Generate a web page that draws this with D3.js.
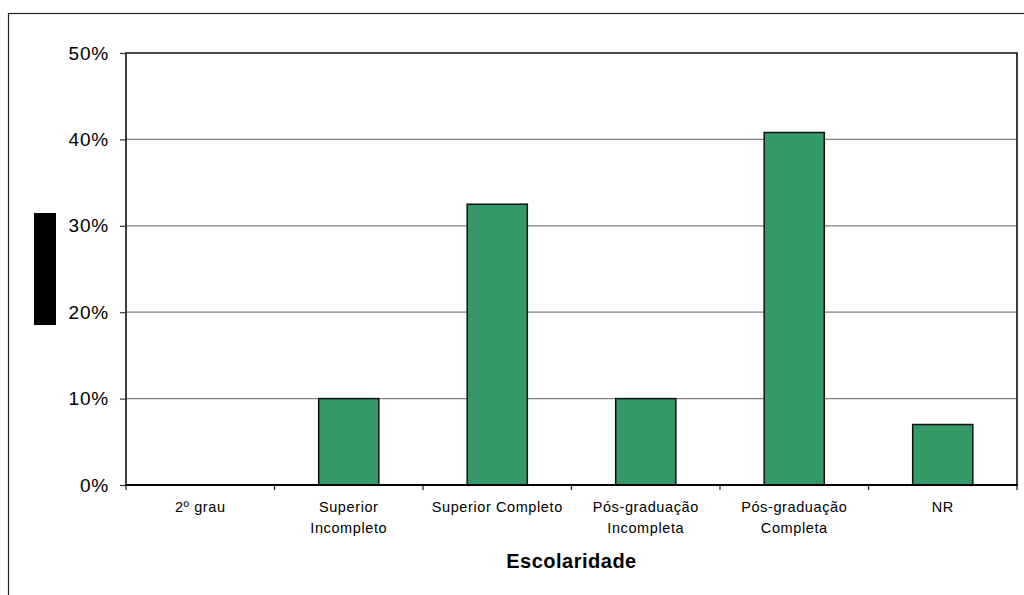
<!DOCTYPE html>
<html>
<head>
<meta charset="utf-8">
<script src="https://cdn.jsdelivr.net/npm/d3@7"></script>
<style>
  html, body { margin: 0; padding: 0; background: #fff; }
  svg { display: block; }
  text { font-family: "Liberation Sans", Arial, sans-serif; fill: #000; }
</style>
</head>
<body>
<svg id="chart" width="1024" height="595"></svg>
<script>
// Escolaridade dos respondentes (percentual)
const categories = [
  ["2º grau"],
  ["Superior", "Incompleto"],
  ["Superior Completo"],
  ["Pós-graduação", "Incompleta"],
  ["Pós-graduação", "Completa"],
  ["NR"]
];
const values = [0, 10, 32.5, 10, 40.8, 7];
const yTicks = [0, 10, 20, 30, 40, 50];
const xTitle = "Escolaridade";

const svg = d3.select("#chart");
const plot = { left: 126, top: 53, right: 1017, bottom: 485 };

// Outer chart frame
svg.append("rect")
  .attr("x", 8.5).attr("y", 13.5)
  .attr("width", 1030).attr("height", 600)
  .attr("fill", "none").attr("stroke", "#222").attr("stroke-width", 1.2);

const x = d3.scaleBand()
  .domain(d3.range(categories.length))
  .range([plot.left, plot.right])
  .paddingInner(0.595).paddingOuter(0.2975);

const xEdge = d3.scaleLinear()
  .domain([0, categories.length])
  .range([plot.left, plot.right]);

const y = d3.scaleLinear().domain([0, 50]).range([plot.bottom, plot.top]);

// Horizontal gridlines
svg.append("g")
  .selectAll("line")
  .data(yTicks.filter(d => d > 0 && d < 50))
  .join("line")
  .attr("x1", plot.left).attr("x2", plot.right)
  .attr("y1", d => y(d)).attr("y2", d => y(d))
  .attr("stroke", "#7f7f7f").attr("stroke-width", 1.2);

// Bars
svg.append("g")
  .selectAll("rect")
  .data(values)
  .join("rect")
  .attr("x", (d, i) => x(i))
  .attr("y", d => y(d))
  .attr("width", x.bandwidth())
  .attr("height", d => y(0) - y(d))
  .attr("fill", "#339966")
  .attr("stroke", d => d > 0 ? "#111" : "none")
  .attr("stroke-width", 1.5);

// Plot frame: top, left, right
svg.append("path")
  .attr("d", `M${plot.left},${plot.bottom} V${plot.top} H${plot.right} V${plot.bottom}`)
  .attr("fill", "none").attr("stroke", "#111").attr("stroke-width", 1.6);

// Y axis ticks and labels
const yAxis = d3.axisLeft(y)
  .tickValues(yTicks)
  .tickSize(6)
  .tickPadding(11)
  .tickFormat(d => d + "%");
const gy = svg.append("g")
  .attr("transform", `translate(${plot.left},0)`)
  .call(yAxis);
gy.select(".domain").remove();
gy.selectAll(".tick line").attr("stroke", "#333").attr("stroke-width", 1.2);
gy.selectAll(".tick text")
  .attr("font-family", "Liberation Sans, Arial, sans-serif")
  .attr("font-size", 19)
  .attr("letter-spacing", "0.8px")
  .attr("fill", "#111");

// X axis baseline and category boundary ticks
svg.append("line")
  .attr("x1", plot.left - 1).attr("x2", plot.right + 1)
  .attr("y1", plot.bottom).attr("y2", plot.bottom)
  .attr("stroke", "#000").attr("stroke-width", 2);
svg.append("g")
  .selectAll("line")
  .data(d3.range(categories.length + 1))
  .join("line")
  .attr("x1", d => xEdge(d)).attr("x2", d => xEdge(d))
  .attr("y1", plot.bottom).attr("y2", plot.bottom + 5)
  .attr("stroke", "#111").attr("stroke-width", 1.2);

// Category labels
svg.append("g")
  .selectAll("text")
  .data(categories)
  .join("text")
  .attr("text-anchor", "middle")
  .attr("font-size", 14.5)
  .attr("letter-spacing", "0.6px")
  .attr("fill", "#111")
  .each(function (lines, i) {
    d3.select(this).selectAll("tspan")
      .data(lines)
      .join("tspan")
      .attr("x", x(i) + x.bandwidth() / 2)
      .attr("y", (l, j) => 512 + j * 21)
      .text(l => l);
  });

// X axis title
svg.append("text")
  .attr("x", (plot.left + plot.right) / 2)
  .attr("y", 568)
  .attr("text-anchor", "middle")
  .attr("font-size", 20)
  .attr("font-weight", "bold")
  .attr("letter-spacing", "0.5px")
  .text(xTitle);

// Y axis title, blacked out
svg.append("rect")
  .attr("x", 34).attr("y", 213)
  .attr("width", 22).attr("height", 112)
  .attr("fill", "#000");
</script>
</body>
</html>
